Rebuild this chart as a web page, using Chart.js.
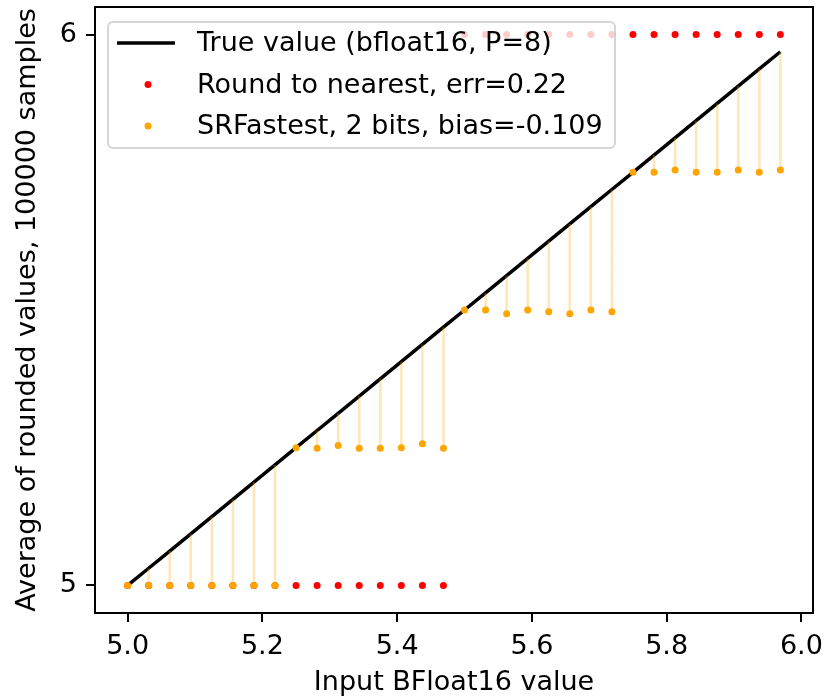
<!DOCTYPE html>
<html>
<head>
<meta charset="utf-8">
<script src="https://cdn.jsdelivr.net/npm/chart.js@4"></script>
<style>
  body { margin: 0; background: #fff; }
  #wrap { width: 824px; height: 699px; }
</style>
</head>
<body>
<div id="wrap"><canvas id="roundChart" width="824" height="699"></canvas></div>
<script>
// Input bfloat16 values (step 1/32)
const inputs = [
  5, 5.03125, 5.0625, 5.09375, 5.125, 5.15625, 5.1875, 5.21875,
  5.25, 5.28125, 5.3125, 5.34375, 5.375, 5.40625, 5.4375, 5.46875,
  5.5, 5.53125, 5.5625, 5.59375, 5.625, 5.65625, 5.6875, 5.71875,
  5.75, 5.78125, 5.8125, 5.84375, 5.875, 5.90625, 5.9375, 5.96875,
];
// True value is the input itself
const trueValues = inputs.slice();
const nearestValues = [
  5, 5, 5, 5, 5, 5, 5, 5, 5, 5, 5, 5, 5, 5, 5, 5,
  6, 6, 6, 6, 6, 6, 6, 6, 6, 6, 6, 6, 6, 6, 6, 6,
];
const srValues = [
  5, 5, 5, 5, 5, 5, 5, 5,
  5.25, 5.249, 5.254, 5.249, 5.249, 5.25, 5.257, 5.249,
  5.5, 5.5, 5.493, 5.5, 5.497, 5.493, 5.5, 5.497,
  5.75, 5.75, 5.754, 5.75, 5.75, 5.754, 5.75, 5.754,
];
const xTicks = [5.0, 5.2, 5.4, 5.6, 5.8, 6.0];
const yTicks = [5, 6];

const FONT = "'DejaVu Sans', sans-serif";
const FSIZE = 27;

// error segments: sr value -> true value, broken by nulls
const errSegments = [];
inputs.forEach((x, i) => {
  errSegments.push({ x: x, y: srValues[i] });
  errSegments.push({ x: x, y: trueValues[i] });
  errSegments.push({ x: x, y: null });
});

// box around plot area + matplotlib-like legend
const framePlugin = {
  id: "frame",
  afterDatasetsDraw(chart) {
    const { ctx, chartArea: a } = chart;
    ctx.save();
    ctx.strokeStyle = "#000";
    ctx.lineWidth = 2;
    ctx.strokeRect(a.left, a.top, a.right - a.left, a.bottom - a.top);

    // legend
    const lx = 108, ly = 22, lw = 507, lh = 126, r = 5;
    ctx.beginPath();
    ctx.roundRect(lx, ly, lw, lh, r);
    ctx.fillStyle = "rgba(255,255,255,0.8)";
    ctx.fill();
    ctx.strokeStyle = "rgba(204,204,204,0.8)";
    ctx.lineWidth = 2;
    ctx.stroke();

    const items = chart.data.datasets
      .filter((d) => d.legendIndex !== undefined)
      .sort((p, q) => p.legendIndex - q.legendIndex);
    ctx.font = FSIZE + "px " + FONT;
    ctx.textBaseline = "middle";
    ctx.textAlign = "left";
    items.forEach((d, i) => {
      const y = 43 + i * 41.5;
      if (d.legendKind === "line") {
        ctx.beginPath();
        ctx.moveTo(117, y);
        ctx.lineTo(175, y);
        ctx.strokeStyle = d.borderColor;
        ctx.lineWidth = 3.5;
        ctx.stroke();
      } else {
        ctx.beginPath();
        ctx.arc(148, y, 3.5, 0, Math.PI * 2);
        ctx.fillStyle = d.backgroundColor;
        ctx.fill();
      }
      ctx.fillStyle = "#000";
      ctx.fillText(d.label, 197, y + 1);
    });
    ctx.restore();
  },
};

const noPad = (s) => {
  s.paddingTop = 0;
  s.paddingBottom = 0;
  s.paddingLeft = 0;
  s.paddingRight = 0;
};

const ctx = document.getElementById("roundChart").getContext("2d");
const roundChart = new Chart(ctx, {
  type: "line",
  data: {
    datasets: [
      {
        label: "SRFastest, 2 bits, bias=-0.109",
        data: inputs.map((x, i) => ({ x: x, y: srValues[i] })),
        showLine: false,
        pointRadius: 3.5,
        pointBorderWidth: 0,
        backgroundColor: "orange",
        borderColor: "orange",
        order: 0,
        legendIndex: 2,
        legendKind: "dot",
      },
      {
        label: "Round to nearest, err=0.22",
        data: inputs.map((x, i) => ({ x: x, y: nearestValues[i] })),
        showLine: false,
        pointRadius: 3.5,
        pointBorderWidth: 0,
        backgroundColor: "red",
        borderColor: "red",
        order: 1,
        legendIndex: 1,
        legendKind: "dot",
      },
      {
        label: "error",
        data: errSegments,
        spanGaps: false,
        pointRadius: 0,
        borderColor: "rgba(255,165,0,0.28)",
        borderWidth: 2.5,
        order: 2,
      },
      {
        label: "True value (bfloat16, P=8)",
        data: inputs.map((x, i) => ({ x: x, y: trueValues[i] })),
        pointRadius: 0,
        borderColor: "#000",
        borderWidth: 3.5,
        order: 3,
        legendIndex: 0,
        legendKind: "line",
      },
    ],
  },
  options: {
    responsive: false,
    animation: false,
    layout: { padding: { top: 7, right: 11, left: 0, bottom: 0 } },
    plugins: {
      legend: { display: false },
      tooltip: { enabled: false },
    },
    scales: {
      x: {
        type: "linear",
        min: 4.9516,
        max: 6.0172,
        afterFit: (s) => { s.height = 86; noPad(s); },
        afterBuildTicks: (s) => { s.ticks = xTicks.map((v) => ({ value: v })); },
        border: { display: false },
        grid: {
          drawOnChartArea: false,
          drawTicks: true,
          tickLength: 9,
          color: "#000",
          lineWidth: 2,
        },
        ticks: {
          color: "#000",
          padding: 9,
          font: { family: FONT, size: FSIZE },
          callback: (v) => Number(v).toFixed(1),
        },
        title: {
          display: true,
          text: "Input BFloat16 value",
          color: "#000",
          font: { family: FONT, size: FSIZE },
          padding: { top: 0, bottom: 0 },
        },
      },
      y: {
        type: "linear",
        min: 4.95,
        max: 6.05,
        afterFit: (s) => { s.width = 95; noPad(s); },
        afterBuildTicks: (s) => { s.ticks = yTicks.map((v) => ({ value: v })); },
        border: { display: false },
        grid: {
          drawOnChartArea: false,
          drawTicks: true,
          tickLength: 9,
          color: "#000",
          lineWidth: 2,
        },
        ticks: {
          color: "#000",
          padding: 9,
          font: { family: FONT, size: FSIZE },
          callback: (v) => String(v),
        },
        title: {
          display: true,
          text: "Average of rounded values, 100000 samples",
          color: "#000",
          font: { family: FONT, size: FSIZE },
          padding: { top: 12, bottom: 0 },
        },
      },
    },
  },
  plugins: [framePlugin],
});
</script>
</body>
</html>
